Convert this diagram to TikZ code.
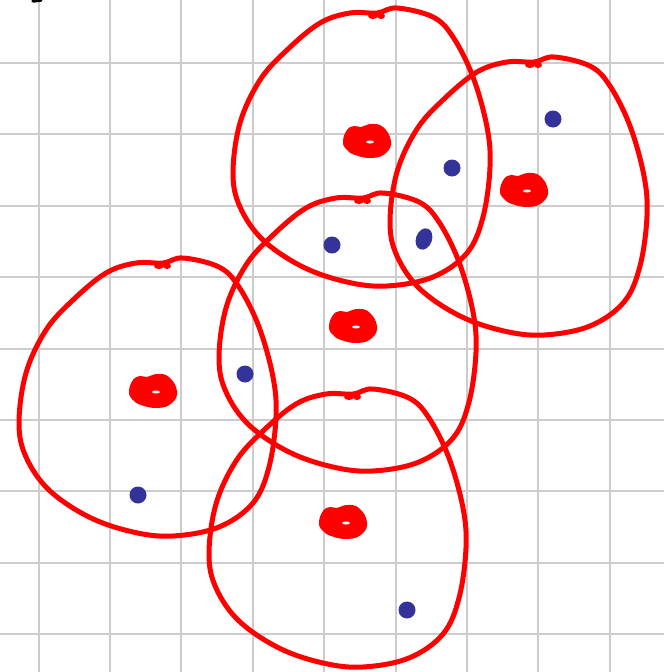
\documentclass[tikz,border=0pt]{standalone}
\definecolor{dotblue}{RGB}{51,51,153}
\tikzset{
  gridline/.style={draw=gray!40, line width=2pt},
  cellloop/.style={draw=red, line width=5pt, line join=round},
  bluedot/.style={fill=dotblue},
  cellpic/.pic={
    \draw[cellloop] plot[smooth cycle, tension=0.6] coordinates {(0,0) (20,-5) (56,4) (76,24) (96,64) (110,114) (113,154) (106,204) (90,240) (56,264) (10,273) (-30,269) (-74,254) (-114,227) (-137,194) (-144,160) (-137,110) (-117,67) (-90,37) (-57,10) (-27,0)};
    \fill[red] (-4,3) ellipse (5 and 3);
    \fill[red] (4,3) ellipse (4 and 3);
    \fill[red] plot[smooth cycle, tension=0.75] coordinates {(-34,128) (-30,117) (-23,113) (-16,114) (-6,111) (6,114) (14,128) (9,140) (-5,145) (-22,142) (-31,136)};
    \fill[white] (-7,129) ellipse (4 and 1.5);
  }
}
\begin{document}
\begin{tikzpicture}[x=1pt,y=-1pt]
\useasboundingbox (0,0) rectangle (664,672);
\fill[white] (0,0) rectangle (664,672);
\foreach \gx in {38.5,109.9,181.3,252.7,324.1,395.5,466.9,538.3,609.7}
  \draw[gridline] (\gx,0) -- (\gx,672);
\foreach \gy in {63,134.4,205.8,277.2,348.6,420,491.4,562.8,634.2}
  \draw[gridline] (0,\gy) -- (664,\gy);
\draw[black, line width=3.5pt, line cap=round] (33,1) -- (41,0);
\pic at (377,13) {cellpic};
\pic at (534,62) {cellpic};
\pic at (363,198) {cellpic};
\pic at (163,263) {cellpic};
\pic at (353,394) {cellpic};
\fill[bluedot] (553,119) circle (8.5);
\fill[bluedot] (452,168) circle (8.5);
\fill[bluedot, rotate around={-20:(424,239)}] (424,239) ellipse (8 and 11);
\fill[bluedot] (332,245) circle (8.5);
\fill[bluedot] (245,374) circle (8.5);
\fill[bluedot] (138,495) circle (8.5);
\fill[bluedot] (407,610) circle (8.5);
\end{tikzpicture}
\end{document}
